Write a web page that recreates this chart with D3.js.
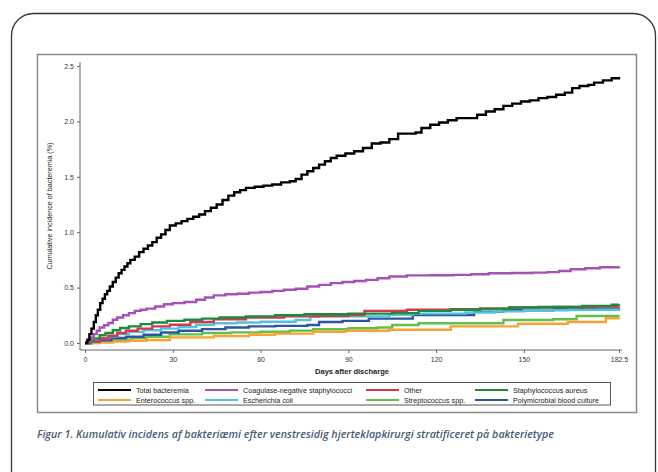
<!DOCTYPE html>
<html><head><meta charset="utf-8">
<script src="https://cdn.jsdelivr.net/npm/d3@7"></script>
<style>body{margin:0;background:#fff}svg{display:block}</style>
</head><body>
<script>
const xTicks = [0, 30, 60, 90, 120, 150, 182.5];
const yTicks = [0, 0.5, 1.0, 1.5, 2.0, 2.5];
const seriesNames = ["Total bacteremia","Coagulase-negative staphylococci","Other","Staphylococcus aureus","Enterococcus spp.","Escherichia coli","Streptococcus spp.","Polymicrobial blood culture"];
const seriesColors = ["#000000","#a552b8","#d8364a","#1e8a3e","#f7a234","#50c4de","#62c04a","#2a56a3"];
const totalDays = [0,0.8,1.5,2.2,3,3.7,4.4,5.2,6,6.8,7.6,8.5,9.5,10.5,11.5,12.5,13.5,14.5,15.5,17,18.5,20,21.5,23,24.5,26,27.5,29,31,33,35,37,39,41,43,45,47,49,51,53,55,58,61,64,67,70,72,74,76,78,80,82,84,86,89,92,95,98,101,104,107,110,113,115,118,121,124,127,131,134,137,140,143,146,149,152,155,158,161,164,166.5,169,172,174,177,180,182.5];
const totalVals = [0,0.03,0.08,0.13,0.19,0.25,0.30,0.36,0.40,0.44,0.47,0.51,0.55,0.59,0.63,0.66,0.69,0.72,0.75,0.78,0.82,0.85,0.88,0.91,0.95,0.98,1.02,1.06,1.08,1.10,1.12,1.14,1.16,1.19,1.22,1.25,1.29,1.33,1.36,1.38,1.40,1.41,1.42,1.43,1.45,1.46,1.48,1.52,1.55,1.58,1.61,1.64,1.67,1.69,1.71,1.73,1.76,1.80,1.81,1.84,1.89,1.89,1.90,1.94,1.97,1.99,2.01,2.03,2.03,2.06,2.09,2.11,2.14,2.16,2.18,2.19,2.21,2.22,2.24,2.26,2.30,2.32,2.33,2.35,2.37,2.39,2.40];
const cnsDays = [0,1,2,3,4,5,6.5,8,9.5,11,13,15,17,19,21,24,27,30,34,38,41,44,48,52,56,60,64,68,72,76,80,84,88,92,96,100,104,110,118,126,132,138,146,153,158,162,166,171,176,182.5];
const cnsVals = [0,0.02,0.05,0.08,0.11,0.14,0.16,0.18,0.21,0.23,0.25,0.27,0.29,0.30,0.31,0.33,0.35,0.36,0.37,0.39,0.41,0.43,0.44,0.445,0.455,0.46,0.47,0.48,0.49,0.51,0.525,0.54,0.55,0.56,0.57,0.585,0.60,0.61,0.612,0.615,0.62,0.63,0.632,0.635,0.64,0.65,0.665,0.675,0.683,0.69];
const otherDays = [0,2,5,8,11,14,18,23,29,36,44,55,68,80,90,95.5,110,125,135,145,160,175,182.5];
const otherVals = [0,0.015,0.04,0.065,0.09,0.11,0.13,0.15,0.165,0.19,0.215,0.23,0.24,0.245,0.253,0.29,0.30,0.305,0.31,0.32,0.325,0.328,0.33];
const saDays = [0,1.5,3,5,7,9.5,12,15,19,23,28,34,40,46,55,65,75,90,105,114,125,135,145,155,170,180,182.5];
const saVals = [0,0.02,0.04,0.07,0.09,0.115,0.135,0.15,0.17,0.185,0.20,0.21,0.22,0.23,0.24,0.25,0.26,0.265,0.27,0.29,0.30,0.31,0.32,0.325,0.335,0.345,0.35];
const entDays = [0,5,9.6,15,21,29,44,56,65,78,89,104,125,148,165,178,182.5];
const entVals = [0,0.005,0.012,0.02,0.027,0.051,0.063,0.075,0.085,0.102,0.11,0.12,0.15,0.174,0.19,0.223,0.225];
const ecoDays = [0,2,5,8,11,15,20,26,32,38,44,52,60,72,77,90,104,112,130,140,150,165,182.5];
const ecoVals = [0,0.015,0.04,0.06,0.08,0.10,0.115,0.13,0.145,0.165,0.178,0.185,0.192,0.208,0.238,0.24,0.255,0.265,0.275,0.285,0.295,0.30,0.305];
const strDays = [0,3,6,10,16,21,29,40,50,60,70,78,90,100,105,114,143,160,168,182.5];
const strVals = [0,0.01,0.02,0.03,0.045,0.057,0.078,0.09,0.096,0.102,0.112,0.124,0.133,0.14,0.163,0.178,0.208,0.215,0.244,0.245];
const polyDays = [0,2,5,9,14,20,26,32,40,48,56,65,76,80,88,97,112,133,143,160,175,182.5];
const polyVals = [0,0.01,0.025,0.045,0.057,0.075,0.095,0.11,0.125,0.14,0.15,0.155,0.162,0.19,0.2,0.22,0.253,0.283,0.295,0.305,0.31,0.313];

const seriesData = [[totalDays,totalVals],[cnsDays,cnsVals],[otherDays,otherVals],[saDays,saVals],[entDays,entVals],[ecoDays,ecoVals],[strDays,strVals],[polyDays,polyVals]];
const drawOrder = [6,4,7,5,2,3,1,0];

const W = 658, H = 472;
const svg = d3.select("body").append("svg").attr("width", W).attr("height", H);
const F = "'Liberation Sans', Arial, sans-serif";

svg.append("rect").attr("x", 11.5).attr("y", 13.5).attr("width", 644).attr("height", 490)
  .attr("rx", 22).attr("fill", "none").attr("stroke", "#333").attr("stroke-width", 1.3);
svg.append("rect").attr("x", 37.5).attr("y", 54.5).attr("width", 599).attr("height", 358)
  .attr("fill", "none").attr("stroke", "#8a8a8a").attr("stroke-width", 1.5);

const x = d3.scaleLinear().domain([0, 182.5]).range([85, 619]);
const y = d3.scaleLinear().domain([0, 2.5]).range([343, 66]);

const xAxisG = svg.append("g").attr("transform", "translate(0,350)")
  .call(d3.axisBottom(x).tickValues(xTicks).tickSize(3).tickSizeOuter(0).tickFormat(d => String(d)));
const yAxisG = svg.append("g").attr("transform", "translate(80,0)")
  .call(d3.axisLeft(y).tickValues(yTicks).tickSize(3).tickSizeOuter(0).tickFormat(d3.format(".1f")));
[xAxisG, yAxisG].forEach(g => {
  g.select(".domain").remove();
  g.selectAll("line").attr("stroke", "#666");
  g.selectAll("text").attr("font-family", F).attr("font-size", 7).attr("fill", "#333");
});
xAxisG.selectAll("text").attr("dy", "0.9em");
svg.append("line").attr("x1", 80).attr("x2", 622).attr("y1", 350).attr("y2", 350).attr("stroke", "#666").attr("stroke-width", 1);
svg.append("line").attr("x1", 80).attr("x2", 80).attr("y1", 62).attr("y2", 350).attr("stroke", "#666").attr("stroke-width", 1);

svg.append("text").attr("x", 352).attr("y", 374).attr("text-anchor", "middle")
  .attr("font-family", F).attr("font-size", 7.5).attr("font-weight", "bold").attr("fill", "#222")
  .text("Days after discharge");
svg.append("text").attr("transform", "translate(52,206) rotate(-90)").attr("text-anchor", "middle")
  .attr("font-family", F).attr("font-size", 7.2).attr("fill", "#222")
  .text("Cumulative incidence of bacteremia (%)");

const line = d3.line().curve(d3.curveStepAfter).x(d => x(d[0])).y(d => y(d[1]));
drawOrder.forEach(i => {
  const [dd, vv] = seriesData[i];
  svg.append("path").datum(dd.map((d, k) => [d, vv[k]]))
    .attr("d", line).attr("fill", "none").attr("stroke", seriesColors[i])
    .attr("stroke-width", 2.4).attr("stroke-linejoin", "miter");
});

svg.append("rect").attr("x", 93.5).attr("y", 382.5).attr("width", 517).attr("height", 22.5)
  .attr("fill", "none").attr("stroke", "#555").attr("stroke-width", 1);
const colLine = [98, 205, 366, 475];
const rowY = [390, 400];
seriesNames.forEach((n, i) => {
  const c = i % 4, r = Math.floor(i / 4);
  svg.append("line").attr("x1", colLine[c]).attr("x2", colLine[c] + 33)
    .attr("y1", rowY[r]).attr("y2", rowY[r]).attr("stroke", seriesColors[i]).attr("stroke-width", 2.2);
  svg.append("text").attr("x", colLine[c] + 38).attr("y", rowY[r]).attr("dy", "0.35em")
    .attr("font-family", F).attr("font-size", 7.2).attr("fill", "#222").text(n);
});

svg.append("text").attr("x", 37).attr("y", 438)
  .attr("font-family", "'Open Sans', sans-serif").attr("font-style", "italic").attr("font-weight", 600)
  .attr("font-size", 10).attr("fill", "#4a5a78")
  .attr("textLength", 517).attr("lengthAdjust", "spacingAndGlyphs")
  .text("Figur 1. Kumulativ incidens af bakteriæmi efter venstresidig hjerteklapkirurgi stratificeret på bakterietype");
</script>
</body></html>
